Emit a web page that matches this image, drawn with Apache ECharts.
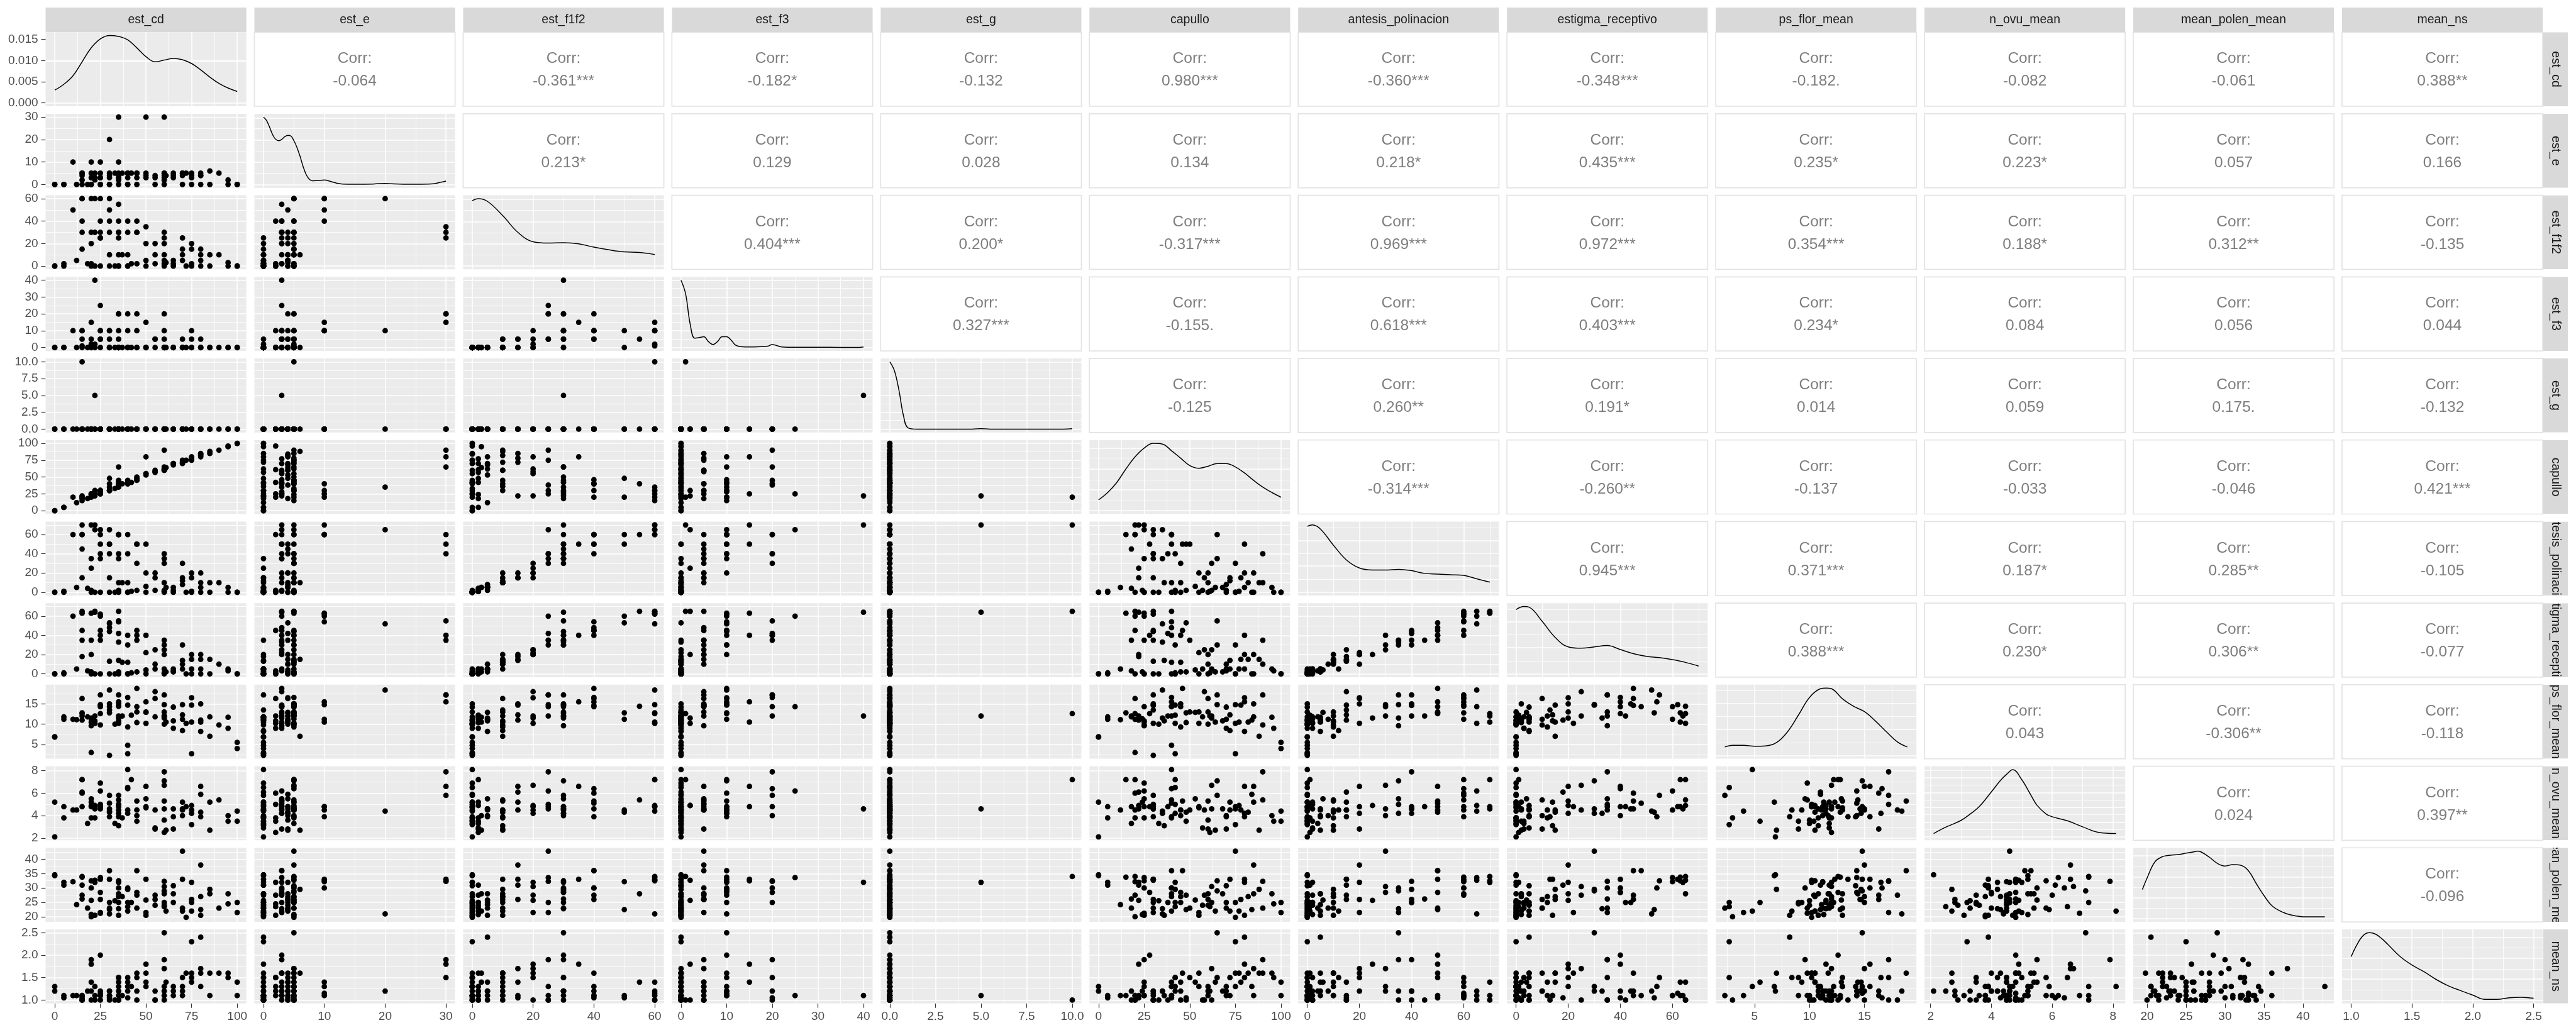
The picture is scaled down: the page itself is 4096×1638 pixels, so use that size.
<!DOCTYPE html>
<html><head><meta charset="utf-8">
<script src="https://cdn.jsdelivr.net/npm/echarts@6/dist/echarts.min.js"></script>
<style>html,body{margin:0;padding:0;background:#fff}#c{width:4096px;height:1638px}</style>
</head><body><div id="c"></div><script>
// ---------------- DATA (one observation per index) ----------------
const est_cd = [0,0,5,5,10,12,15,15,15,15, 15,18,20,20,20,20,20,22,22,22, 25,25,25,25,25,25,30,30,30,30, 30,30,33,35,35,35,35,35,35,35, 35,37,40,40,40,40,40,42,45,45, 45,45,50,50,50,50,55,55,55,60, 60,60,60,60,60,60,61,65,65,65, 70,70,70,70,72,75,75,75,75,80, 80,80,80,85,85,90,95,95,100,100];
const est_e = [0,0,0,0,10,0,5,2,4,0, 5,0,10,3,0,0,5,3,2,5, 3,3,5,0,0,10,20,3,0,0, 5,4,5,30,10,3,4,3,0,5, 2,5,0,0,5,3,5,5,3,5, 0,5,30,3,4,5,3,0,4,30, 5,5,3,0,4,2,4,5,4,3, 5,5,4,0,5,4,5,0,3,5, 4,0,4,6,0,5,0,2,0,0];
const est_f1f2 = [0,0,0,2,50,5,60,40,30,15, 60,2,60,30,20,0,2,30,0,60, 25,30,40,0,25,60,60,40,10,0, 30,50,0,30,40,55,25,30,10,0, 0,10,0,0,40,30,10,2,40,30, 2,30,35,20,5,0,20,2,10,25, 20,30,10,5,0,2,3,0,5,2, 25,15,5,10,0,20,15,0,2,15, 10,5,0,10,0,10,3,0,0,0];
const est_f3 = [0,0,0,0,10,0,1,10,5,0, 10,0,15,5,2,0,0,40,0,2, 25,10,5,0,5,10,10,5,0,0, 10,0,0,20,10,5,20,0,0,0, 0,0,0,0,20,10,0,0,10,0, 0,20,15,0,0,0,5,0,5,20, 0,10,5,0,0,0,0,0,0,0, 5,0,0,0,0,10,5,0,0,5, 0,0,0,0,0,0,0,0,0,0];
const est_g = [0,0,0,0,0,0,10,0,0,0, 0,0,0,0,0,0,0,5,0,0, 0,0,0,0,0,0,0,0,0,0, 0,0,0,0,0,0,0,0,0,0, 0,0,0,0,0,0,0,0,0,0, 0,0,0,0,0,0,0,0,0,0, 0,0,0,0,0,0,0,0,0,0, 0,0,0,0,0,0,0,0,0,0, 0,0,0,0,0,0,0,0,0,0];
const capullo = [0,0,5,5,20,12,20,20,18,22, 15,18,25,25,22,20,24,22,25,30, 25,28,30,25,30,30,35,40,30,30, 30,48,33,65,40,40,38,35,36,45, 42,40,40,42,40,42,45,42,46,50, 48,45,80,55,53,55,58,57,60,90, 62,65,60,62,60,61,64,70,68,70, 75,72,70,72,75,80,78,75,77,85, 82,80,84,88,85,90,95,96,100,100];
const antesis_polinacion = [0,0,0,1,60,5,70,60,45,15, 60,4,70,35,25,0,2,70,0,65, 65,50,40,0,35,60,65,50,15,0, 40,50,0,60,60,60,40,35,10,0, 2,10,0,0,60,40,10,1,50,50, 2,30,50,20,6,0,15,2,20,40, 30,35,10,2,0,1,5,0,5,2, 30,15,8,12,0,20,15,0,1,20, 10,5,0,10,0,10,5,0,0,0];
const estigma_receptivo = [0,0,1,0,60,5,65,45,35,18, 63,3,63,35,20,0,2,64,0,65, 60,40,45,0,35,62,52,48,13,0, 44,53,0,55,54,65,42,33,14,2, 0,12,0,0,40,30,12,1,45,35, 2,40,40,22,4,0,25,5,10,35, 25,30,20,5,0,1,2,5,2,3, 30,14,10,5,0,20,15,0,5,20, 15,5,0,15,0,10,5,3,0,0];
const ps_flor_mean = [6.8,6.9,11.2,11.8,11.2,11.1,12.6,16.3,12.0,11.0, 12.8,11.8,10.5,9.6,11.5,3.0,11.3,12.0,10.8,10.2, 14.3,12.6,14.6,9.8,17.2,14.8,18.4,14.3,13.5,2.3, 15.0,12.8,10.0,17.2,15.5,14.4,12.0,11.5,10.8,15.0, 10.2,12.0,4.8,2.7,16.6,14.7,9.3,12.2,18.8,13.0, 10.4,14.3,15.5,10.2,12.9,13.0,18.0,11.8,16.3,17.2, 12.0,14.8,13.0,11.5,10.0,12.0,10.5,14.2,10.8,9.0, 14.8,12.3,11.2,8.4,10.2,16.5,14.7,2.7,10.5,15.0, 10.5,8.2,11.0,7.0,11.8,9.8,11.7,9.0,5.5,4.0];
const n_ovu_mean = [5.2,2.1,4.8,3.8,4.5,4.5,7.2,6.0,4.8,6.1, 7.2,3.3,4.8,5.5,4.9,3.8,5.2,4.6,3.8,4.9, 6.2,4.8,4.6,6.9,5.0,4.8,4.4,5.1,3.9,5.8, 4.6,4.3,3.3,5.8,3.9,5.4,4.8,4.2,3.1,4.5, 5.0,3.8,8.1,6.5,6.4,4.2,4.5,7.2,5.3,4.5, 3.5,4.0,6.6,4.8,5.5,4.7,4.5,2.9,2.8,7.9, 6.7,7.1,5.3,4.6,3.6,2.5,2.7,3.9,4.6,2.8, 4.6,5.2,4.0,4.5,4.8,4.2,4.5,3.2,4.9,6.6, 4.3,3.9,5.9,2.7,5.2,5.4,4.0,3.5,3.5,4.4];
const mean_polen_mean = [34.3,34.6,32.0,31.0,32.2,24.2,34.0,27.5,26.2,31.0, 33.8,23.0,32.5,30.0,25.7,20.0,20.8,32.0,20.5,32.7, 33.6,28.5,26.0,21.2,21.5,33.0,21.0,36.0,33.0,23.0, 25.0,22.5,25.6,32.5,30.0,28.0,25.0,22.8,20.5,27.0, 32.0,27.0,22.0,23.5,30.0,29.5,25.0,25.0,36.0,23.0, 27.5,28.5,33.0,21.5,25.8,20.5,27.5,24.0,26.0,32.3, 30.5,29.0,28.0,25.0,24.0,23.5,22.0,30.8,28.0,25.0, 42.8,33.0,23.0,22.0,19.8,32.0,26.0,25.0,22.0,38.0, 27.0,20.5,22.5,29.5,28.0,23.0,28.0,24.5,25.0,21.5];
const mean_ns = [1.3,1.2,1.05,1.1,1.1,1.1,1.0,1.1,1.0,1.05, 1.1,1.2,1.4,1.9,1.8,1.0,1.2,1.1,1.3,1.0, 1.1,2.0,1.2,1.1,1.0,1.15,1.2,1.1,1.0,1.1, 1.2,1.05,1.0,1.5,1.3,1.4,1.0,1.2,1.1,1.0, 1.5,1.1,1.3,1.5,1.05,1.2,1.4,1.3,1.6,1.5, 1.0,1.2,1.8,1.6,1.4,1.3,1.0,1.0,1.2,1.9, 1.7,2.5,1.3,1.0,1.1,1.2,1.4,1.3,1.2,1.1, 1.3,1.1,1.2,1.5,1.6,1.5,1.4,2.3,1.6,1.7, 1.6,2.4,1.3,1.6,1.1,1.6,1.6,1.5,1.4,1.1];

// variable names, data ranges, tick values and tick labels
const varNames = ['est_cd','est_e','est_f1f2','est_f3','est_g','capullo','antesis_polinacion','estigma_receptivo','ps_flor_mean','n_ovu_mean','mean_polen_mean','mean_ns'];
const dataRanges = [[0,100],[0,30],[0,60],[0,40],[0,10],[0,100],[0,70],[0,70],[2.3,18.9],[2.1,8.1],[19.4,42.8],[1.0,2.5]];
const tickValues = [[0,25,50,75,100],[0,10,20,30],[0,20,40,60],[0,10,20,30,40],[0,2.5,5,7.5,10],[0,25,50,75,100],[0,20,40,60],[0,20,40,60],[5,10,15],[2,4,6,8],[20,25,30,35,40],[1,1.5,2,2.5]];
const tickLabels = [['0','25','50','75','100'],['0','10','20','30'],['0','20','40','60'],['0','10','20','30','40'],['0.0','2.5','5.0','7.5','10.0'],['0','25','50','75','100'],['0','20','40','60'],['0','20','40','60'],['5','10','15'],['2','4','6','8'],['20','25','30','35','40'],['1.0','1.5','2.0','2.5']];
const densityTickValues = [0,0.005,0.010,0.015];
const densityTickLabels = ['0.000','0.005','0.010','0.015'];

// diagonal density curves (est_cd in density units, others relative to their maximum)
const densX_est_cd = [0,5,10,15,20,25,30,35,40,45,50,55,60,65,70,75,80,85,90,95,100];
const densY_est_cd = [.0030,.0044,.0064,.0097,.0130,.0151,.0159,.0157,.0149,.0130,.0109,.0097,.0101,.0105,.0102,.0093,.0078,.0061,.0046,.0035,.0027];
const densX_est_e = [0,0.5,1,1.5,2,2.5,3,3.5,4,4.5,5,5.5,6,6.5,7,7.5,8,9,10,11,12,13,15,18,19,20,21,23,26,28,29,30];
const densY_est_e = [1.0,.95,.85,.74,.67,.65,.67,.71,.73,.72,.65,.55,.42,.27,.15,.08,.055,.06,.065,.045,.02,.006,.004,.006,.012,.015,.01,.004,.004,.01,.03,.05];
const densX_est_f1f2 = [0,2,5,10,15,20,25,30,35,40,45,50,55,60];
const densY_est_f1f2 = [.97,1.0,.96,.75,.50,.36,.34,.345,.33,.28,.24,.21,.20,.17];
const densX_est_f3 = [0,1,2,3,4,5,6,7,8,9,10,11,12,14,16,19,20,21,22,25,30,35,39,40];
const densY_est_f3 = [1.0,.80,.35,.14,.15,.16,.09,.045,.09,.16,.16,.11,.035,.01,.01,.02,.045,.03,.01,.005,.005,.003,.003,.01];
const densX_est_g = [0,0.25,0.5,0.75,1,1.5,3,4.5,5,5.5,7,9.5,10];
const densY_est_g = [1.0,.87,.58,.20,.02,0,0,0,.006,0,0,0,.006];
const densX_capullo = [0,5,10,15,20,25,30,35,40,45,50,55,60,65,70,75,80,85,90,95,100];
const densY_capullo = [.16,.27,.42,.62,.80,.93,1.0,.99,.89,.78,.67,.63,.66,.70,.70,.65,.56,.45,.35,.27,.20];
const densX_antesis = [0,2,5,10,15,20,25,30,35,40,45,50,55,60,65,70];
const densY_antesis = [.98,1.0,.94,.70,.48,.36,.33,.33,.34,.32,.28,.27,.26,.25,.20,.15];
const densX_estigma = [0,3,5,10,15,20,25,30,35,40,45,50,55,60,65,70];
const densY_estigma = [.955,1.0,.99,.78,.54,.40,.38,.40,.42,.36,.30,.26,.24,.21,.17,.115];
const densX_ps = [2.3,3,4,5,6,7,8,9,10,11,11.5,12,13,14,15,16,17,18,18.9];
const densY_ps = [.125,.15,.15,.135,.14,.19,.35,.60,.86,.99,1.0,.99,.84,.73,.65,.51,.35,.20,.125];
const densX_novu = [2.1,2.5,3,3.3,3.6,4,4.3,4.5,4.7,5,5.3,5.5,5.8,6,6.5,7,7.5,8.1];
const densY_novu = [.05,.145,.245,.34,.45,.67,.84,.93,1.0,.85,.62,.47,.34,.30,.24,.15,.07,.05];
const densX_polen = [19.4,20,21,22,23,24,25,26,26.5,27,28,29,30,31,32,33,34,35,36,37,38,39,40,41,42.8];
const densY_polen = [.43,.60,.84,.92,.94,.95,.97,.99,1.0,.985,.91,.82,.78,.80,.79,.71,.52,.34,.19,.115,.067,.04,.026,.026,.026];
const densX_ns = [1.0,1.05,1.1,1.15,1.2,1.25,1.3,1.4,1.5,1.6,1.7,1.8,1.9,2.0,2.1,2.2,2.3,2.4,2.5];
const densY_ns = [.645,.83,.96,1.0,.98,.915,.83,.65,.52,.42,.305,.21,.14,.073,.01,.01,.035,.042,.027];

// correlation texts of the upper triangle (row i, columns i+1..11)
const corr_est_cd = ['-0.064','-0.361***','-0.182*','-0.132','0.980***','-0.360***','-0.348***','-0.182.','-0.082','-0.061','0.388**'];
const corr_est_e = ['0.213*','0.129','0.028','0.134','0.218*','0.435***','0.235*','0.223*','0.057','0.166'];
const corr_est_f1f2 = ['0.404***','0.200*','-0.317***','0.969***','0.972***','0.354***','0.188*','0.312**','-0.135'];
const corr_est_f3 = ['0.327***','-0.155.','0.618***','0.403***','0.234*','0.084','0.056','0.044'];
const corr_est_g = ['-0.125','0.260**','0.191*','0.014','0.059','0.175.','-0.132'];
const corr_capullo = ['-0.314***','-0.260**','-0.137','-0.033','-0.046','0.421***'];
const corr_antesis = ['0.945***','0.371***','0.187*','0.285**','-0.105'];
const corr_estigma = ['0.388***','0.230*','0.306**','-0.077'];
const corr_ps = ['0.043','-0.306**','-0.118'];
const corr_novu = ['0.024','0.397**'];
const corr_polen = ['-0.096'];

// ---------------- assembly ----------------
const DATA = [est_cd,est_e,est_f1f2,est_f3,est_g,capullo,antesis_polinacion,estigma_receptivo,ps_flor_mean,n_ovu_mean,mean_polen_mean,mean_ns];
const DENS = [[densX_est_cd,densY_est_cd],[densX_est_e,densY_est_e],[densX_est_f1f2,densY_est_f1f2],[densX_est_f3,densY_est_f3],[densX_est_g,densY_est_g],[densX_capullo,densY_capullo],[densX_antesis,densY_antesis],[densX_estigma,densY_estigma],[densX_ps,densY_ps],[densX_novu,densY_novu],[densX_polen,densY_polen],[densX_ns,densY_ns]];
const CORR = [corr_est_cd,corr_est_e,corr_est_f1f2,corr_est_f3,corr_est_g,corr_capullo,corr_antesis,corr_estigma,corr_ps,corr_novu,corr_polen];
// relative major grid step of each diagonal density panel
const diagStep = [0,0.33,0.33,0.25,0.25,0.31,0.385,0.385,0.385,0.22,0.31,0.31];

const S = 4096/4800;
const PL = 85, PW = 374, PP = 389, PT = 60, PH = 138, RP = 152;
const ST = 14, SH = 46, RSX = 4739, RSW = 46;
const FONT = '"Liberation Sans", Arial, sans-serif';
const AX_FS = 19, STRIP_FS = 19.5, CORR_FS = 24.5;
const MAJ_W = 1.5, MIN_W = 0.85;

function ex(r){ const d = r[1]-r[0]; return [r[0]-0.05*d, r[1]+0.05*d]; }
function minors(maj, lo, hi){ const out=[]; const st = maj[1]-maj[0]; for(let k=-1;k<maj.length;k++){ const v = maj[0]+(k+0.5)*st; if(v>lo && v<hi) out.push(v);} return out; }

const grids=[], xAxes=[], yAxes=[], series=[];

function hiddenAxis(gi, lo, hi){ return {type:'value', gridIndex:gi, min:lo, max:hi, show:false, axisLine:{onZero:false}}; }
function valAxis(gi, rng, ticks, labels, show){
  return {
    type:'value', gridIndex: gi, min: rng[0], max: rng[1],
    axisLine:{show:false, onZero:false}, splitLine:{show:false},
    axisTick:{show: show, customValues: ticks, length: 7, lineStyle:{color:'#333333', width:1.2}},
    axisLabel:{show: show, customValues: ticks, color:'#4D4D4D', fontSize: AX_FS, fontFamily: FONT, margin: 12,
      formatter: function(v){ for(let i=0;i<ticks.length;i++){ if(Math.abs(ticks[i]-v) < 1e-9) return labels[i]; } return ''; }}
  };
}

for(let r=0;r<12;r++){
  for(let c=0;c<12;c++){
    const gi = grids.length;
    const upper = c>r, diag = r===c;
    grids.push({left:(PL+c*PP)*S, top:(PT+r*RP)*S, width:PW*S, height:PH*S, show:true,
      backgroundColor: upper ? '#FFFFFF' : '#EBEBEB',
      borderColor: upper ? '#E3E3E3' : 'rgba(0,0,0,0)', borderWidth: upper ? 1.7 : 0});
    if(upper){
      xAxes.push(hiddenAxis(gi,0,1));
      yAxes.push(hiddenAxis(gi,0,1));
      series.push({type:'scatter', xAxisIndex:gi, yAxisIndex:gi, data:[[0.5,0.5]], symbolSize:1,
        itemStyle:{color:'rgba(0,0,0,0)'}, silent:true, emphasis:{disabled:true}, z:3,
        label:{show:true, position:'inside', formatter:'Corr:\n'+CORR[r][c-r-1], fontSize:CORR_FS, lineHeight:36,
          color:'#5E5E5E', fontFamily:FONT, align:'center', offset:[0,1.5]}});
      continue;
    }
    const xr = ex(dataRanges[c]);
    xAxes.push(valAxis(gi, xr, tickValues[c], tickLabels[c], r===11));
    const ml = [];
    tickValues[c].forEach(v=>{ if(v>xr[0]&&v<xr[1]) ml.push({xAxis:v, lineStyle:{color:'#FFFFFF', width:MAJ_W, type:'solid'}}); });
    minors(tickValues[c], xr[0], xr[1]).forEach(v=>ml.push({xAxis:v, lineStyle:{color:'#FFFFFF', width:MIN_W, type:'solid'}}));
    let yr;
    if(diag){
      if(r===0){
        const mx = Math.max.apply(null, densY_est_cd);
        yr = [-0.05*mx, 1.05*mx];
        yAxes.push(valAxis(gi, yr, densityTickValues, densityTickLabels, true));
        densityTickValues.forEach(v=>{ if(v>yr[0]&&v<yr[1]) ml.push({yAxis:v, lineStyle:{color:'#FFFFFF', width:MAJ_W, type:'solid'}}); });
        minors(densityTickValues, yr[0], yr[1]).forEach(v=>ml.push({yAxis:v, lineStyle:{color:'#FFFFFF', width:MIN_W, type:'solid'}}));
      } else {
        yr = [-0.05, 1.05];
        yAxes.push(hiddenAxis(gi, yr[0], yr[1]));
        const st = diagStep[r];
        for(let k=0; k*st/2 < yr[1]; k++){ ml.push({yAxis:k*st/2, lineStyle:{color:'#FFFFFF', width: k%2===0?MAJ_W:MIN_W, type:'solid'}}); }
      }
      const dx = DENS[c][0], dy = DENS[c][1];
      series.push({type:'line', xAxisIndex:gi, yAxisIndex:gi, data: dx.map((x,i)=>[x,dy[i]]),
        showSymbol:false, symbol:'none', smooth:0.4, lineStyle:{color:'#000000', width:1.5}, silent:true, z:3,
        emphasis:{disabled:true},
        markLine:{silent:true, symbol:['none','none'], label:{show:false}, emphasis:{disabled:true}, animation:false, z:1, data: ml}});
    } else {
      yr = ex(dataRanges[r]);
      yAxes.push(valAxis(gi, yr, tickValues[r], tickLabels[r], c===0));
      tickValues[r].forEach(v=>{ if(v>yr[0]&&v<yr[1]) ml.push({yAxis:v, lineStyle:{color:'#FFFFFF', width:MAJ_W, type:'solid'}}); });
      minors(tickValues[r], yr[0], yr[1]).forEach(v=>ml.push({yAxis:v, lineStyle:{color:'#FFFFFF', width:MIN_W, type:'solid'}}));
      const xs = DATA[c], ys = DATA[r];
      series.push({type:'scatter', xAxisIndex:gi, yAxisIndex:gi, data: xs.map((x,i)=>[x,ys[i]]),
        symbolSize:8.8, itemStyle:{color:'#000000', opacity:1}, silent:true, emphasis:{disabled:true}, z:3,
        markLine:{silent:true, symbol:['none','none'], label:{show:false}, emphasis:{disabled:true}, animation:false, z:1, data: ml}});
    }
  }
}

// strips (top: column names, right: row names, clipped to strip box)
function stripSeries(left, top, w, h, text, vertical){
  const gi = grids.length;
  grids.push({left:left, top:top, width:w, height:h, show:false});
  xAxes.push(hiddenAxis(gi,0,1));
  yAxes.push(hiddenAxis(gi,0,1));
  series.push({type:'custom', xAxisIndex:gi, yAxisIndex:gi, clip:true, silent:true, z:4, data:[[0.5,0.5]],
    renderItem: function(params, api){
      const cs = params.coordSys;
      return {type:'group', children:[
        {type:'rect', shape:{x:cs.x, y:cs.y, width:cs.width, height:cs.height}, style:{fill:'#D9D9D9'}},
        {type:'text', x: cs.x+cs.width/2, y: cs.y+cs.height/2, rotation: vertical ? -Math.PI/2 : 0,
          style:{text:text, fill:'#1A1A1A', fontSize:STRIP_FS, fontFamily:FONT, align:'center', verticalAlign:'middle',
                 textAlign:'center', textVerticalAlign:'middle'}}
      ]};
    }});
}
for(let c=0;c<12;c++) stripSeries((PL+c*PP)*S, ST*S, PW*S, SH*S, varNames[c], false);
for(let r=0;r<12;r++) stripSeries(RSX*S, (PT+r*RP)*S, RSW*S, PH*S, varNames[r], true);

const chart = echarts.init(document.getElementById('c'), null, {renderer:'canvas'});
chart.setOption({animation:false, backgroundColor:'#FFFFFF', grid:grids, xAxis:xAxes, yAxis:yAxes, series:series});
</script></body></html>
